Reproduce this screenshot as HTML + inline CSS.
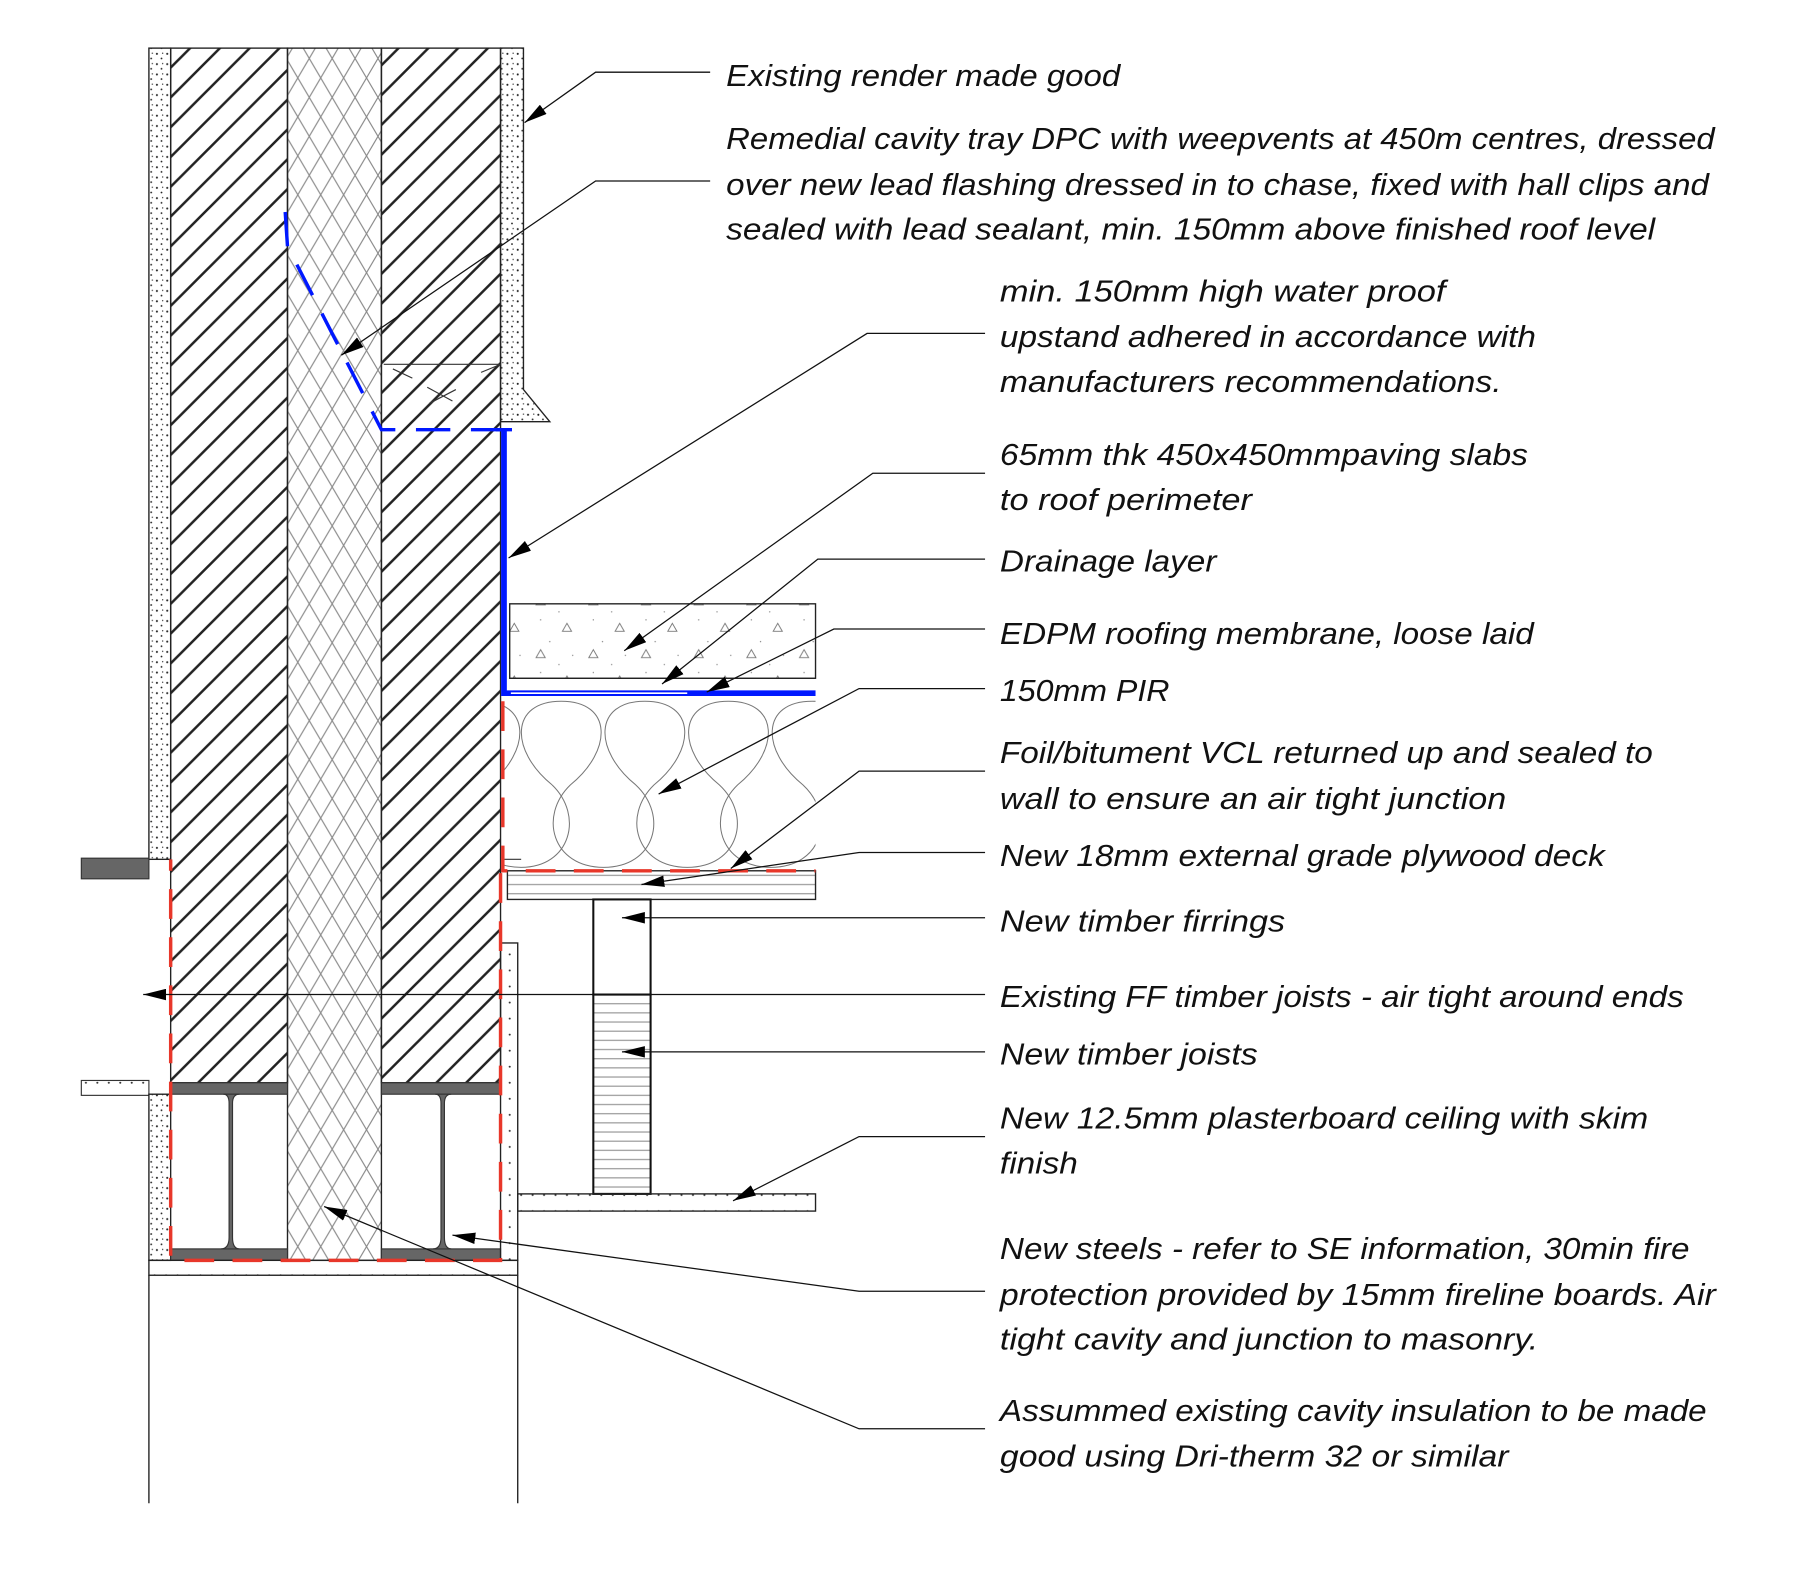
<!DOCTYPE html>
<html><head><meta charset="utf-8"><style>
html,body{margin:0;padding:0;background:#fff;}
svg{display:block;}
text{font-family:"Liberation Sans",sans-serif;font-style:italic;font-size:27px;fill:#111;}
</style></head><body>
<svg width="1796" height="1572" viewBox="0 0 1568 1372" preserveAspectRatio="none" xmlns="http://www.w3.org/2000/svg">
<defs>
<pattern id="hatch" width="26" height="26" patternUnits="userSpaceOnUse">
<path d="M-2,28 L28,-2 M-15,15 L15,-15 M11,41 L41,11" stroke="#222" stroke-width="2.2"/>
</pattern>
<pattern id="cross" width="20" height="34" patternUnits="userSpaceOnUse">
<path d="M0,0 L20,34 M20,0 L0,34 M-10,17 L0,34 M20,0 L30,17 M0,0 L-10,17 M30,17 L20,34" stroke="#888" stroke-width="1" fill="none"/>
</pattern>
<pattern id="dots" width="9" height="9" patternUnits="userSpaceOnUse">
<circle cx="2" cy="2" r="0.9" fill="#222"/><circle cx="6" cy="6" r="0.8" fill="#222"/><circle cx="7" cy="1.5" r="0.6" fill="#444"/>
</pattern>
<pattern id="dots2" width="10" height="14" patternUnits="userSpaceOnUse">
<circle cx="5" cy="7" r="0.9" fill="#333"/>
</pattern>
<pattern id="conc" width="46" height="46" patternUnits="userSpaceOnUse">
<path d="M8,22 l4,-7 l4,7z M31,45 l4,-7 l4,7z" stroke="#777" fill="none" stroke-width="0.8"/>
<circle cx="20" cy="8" r="0.6" fill="#888"/><circle cx="40" cy="20" r="0.6" fill="#888"/><circle cx="12" cy="35" r="0.6" fill="#888"/><circle cx="28" cy="28" r="0.6" fill="#888"/>
</pattern>
<pattern id="wood" width="20" height="8" patternUnits="userSpaceOnUse">
<path d="M0,4 L20,4" stroke="#999" stroke-width="1"/>
</pattern>
<marker id="ah" viewBox="0 0 20 10" refX="20" refY="5" markerWidth="20" markerHeight="10" markerUnits="userSpaceOnUse" orient="auto">
<path d="M0,0 L20,5 L0,10z" fill="#000"/>
</marker>
<clipPath id="pirclip"><rect x="440" y="610" width="272" height="150"/></clipPath>
</defs>

<rect x="130" y="42" width="19" height="708" fill="url(#dots)" stroke="#222" stroke-width="1.2"/>
<rect x="149" y="42" width="102" height="903" fill="url(#hatch)" stroke="#222" stroke-width="1.2"/>
<rect x="251" y="42" width="82" height="1058" fill="url(#cross)" stroke="#222" stroke-width="1.2"/>
<rect x="333" y="42" width="104" height="903" fill="url(#hatch)" stroke="#222" stroke-width="1.2"/>
<path d="M437,42 L457,42 L457,340 L480,368 L437,368 Z" fill="url(#dots)" stroke="#222" stroke-width="1.2"/>
<path d="M335,318 L437,318 M343,322 L360,330 M373,338 L395,350 M375,352 L398,340 M420,325 L437,318" stroke="#333" stroke-width="1"/>

<rect x="71" y="749" width="59" height="18" fill="#666" stroke="#333"/>
<rect x="71" y="943" width="59" height="13" fill="url(#dots2)" stroke="#333"/>
<rect x="130" y="955" width="19" height="145" fill="url(#dots)" stroke="#222" stroke-width="1.2"/>

<g fill="#666" stroke="#333">
<rect x="149" y="945" width="102" height="10"/>
<rect x="149" y="1090" width="102" height="10"/>
<path d="M195,955 Q200,955 200,963 L200,1080 Q200,1090 193,1090 L209,1090 Q203,1090 203,1080 L203,963 Q203,955 209,955Z"/>
<rect x="333" y="945" width="104" height="10"/>
<rect x="333" y="1090" width="104" height="10"/>
<path d="M380,955 Q385,955 385,963 L385,1080 Q385,1090 378,1090 L394,1090 Q388,1090 388,1080 L388,963 Q388,955 394,955Z"/>
</g>
<rect x="130" y="1100" width="322" height="13" fill="url(#dots2)" stroke="#222" stroke-width="1.2"/>
<rect x="437" y="823" width="15" height="277" fill="url(#dots2)" stroke="#222" stroke-width="1.2"/>
<path d="M130,1113 L130,1312 M452,1113 L452,1312" stroke="#222" stroke-width="1.2"/>

<rect x="445" y="527" width="267" height="65" fill="url(#conc)" stroke="#222" stroke-width="1.2"/>
<path d="M445,592 L712,592" stroke="#222"/>
<g clip-path="url(#pirclip)" stroke="#777" fill="none" stroke-width="0.9">
<path d="M482,685 C445,655 445,612 490,612 C535,612 535,655 498,685 C470,712 482,757 527,757 C572,757 584,712 555,685 C518,655 518,612 563,612 C608,612 608,655 571,685 C543,712 555,757 600,757 C645,757 657,712 628,685 C591,655 591,612 636,612 C681,612 681,655 644,685 C616,712 628,757 673,757 C718,757 730,712 701,685 C664,655 664,612 709,612 C754,612 754,655 717,685"/>
<path d="M482,685 C510,712 498,757 455,757 C410,757 398,712 427,685 C464,655 464,612 419,612"/>
</g>
<path d="M440,750 L455,750" stroke="#333"/>
<rect x="443" y="760" width="269" height="25" fill="url(#wood)" stroke="#222" stroke-width="1.2"/>
<rect x="518" y="785" width="50" height="83" fill="#fff" stroke="#111" stroke-width="1.8"/>
<rect x="518" y="868" width="50" height="174" fill="url(#wood)" stroke="#111" stroke-width="1.8"/>
<rect x="452" y="1042" width="260" height="15" fill="url(#dots2)" stroke="#222" stroke-width="1.2"/>

<path d="M249,185 L251,215 L333,375 L440,375" stroke="#0018ff" stroke-width="3" fill="none" stroke-dasharray="30,18"/>
<path d="M433,375 L447,375" stroke="#0018ff" stroke-width="3"/>
<path d="M440,375 L440,605 L712,605" stroke="#0018ff" stroke-width="5" fill="none"/>
<path d="M446,605 L600,605" stroke="#fff" stroke-width="1.5"/>

<g stroke="#e8372a" stroke-width="3" fill="none" stroke-dasharray="26,16">
<path d="M439,612 L439,760 L712,760"/>
<path d="M437,762 L437,1100 L149,1100 L149,750"/>
</g>

<g stroke="#111" stroke-width="1.1" fill="none" marker-end="url(#ah)">
<path d="M620,63 L520,63 L458,107"/>
<path d="M620,158 L520,158 L298,310"/>
<path d="M860,291 L757,291 L444,487"/>
<path d="M860,413 L762,413 L545,568"/>
<path d="M860,488 L714,488 L578,597"/>
<path d="M860,549 L728,549 L617,604"/>
<path d="M860,601 L750,601 L575,693"/>
<path d="M860,673 L750,673 L638,758"/>
<path d="M860,744 L750,744 L560,772"/>
<path d="M860,801 L543,801"/>
<path d="M860,868 L125,868"/>
<path d="M860,918 L543,918"/>
<path d="M860,992 L750,992 L640,1048"/>
<path d="M860,1127 L750,1127 L395,1078"/>
<path d="M860,1247 L750,1247 L283,1053"/>
</g>

<text x="634" y="75" textLength="344" lengthAdjust="spacingAndGlyphs">Existing render made good</text>
<text x="634" y="130" textLength="863" lengthAdjust="spacingAndGlyphs">Remedial cavity tray DPC with weepvents at 450m centres, dressed</text>
<text x="634" y="170" textLength="858" lengthAdjust="spacingAndGlyphs">over new lead flashing dressed in to chase, fixed with hall clips and</text>
<text x="634" y="209" textLength="811" lengthAdjust="spacingAndGlyphs">sealed with lead sealant, min. 150mm above finished roof level</text>
<text x="873" y="263" textLength="389" lengthAdjust="spacingAndGlyphs">min. 150mm high water proof</text>
<text x="873" y="303" textLength="468" lengthAdjust="spacingAndGlyphs">upstand adhered in accordance with</text>
<text x="873" y="342" textLength="438" lengthAdjust="spacingAndGlyphs">manufacturers recommendations.</text>
<text x="873" y="406" textLength="461" lengthAdjust="spacingAndGlyphs">65mm thk 450x450mmpaving slabs</text>
<text x="873" y="445" textLength="220" lengthAdjust="spacingAndGlyphs">to roof perimeter</text>
<text x="873" y="499" textLength="189" lengthAdjust="spacingAndGlyphs">Drainage layer</text>
<text x="873" y="562" textLength="466" lengthAdjust="spacingAndGlyphs">EDPM roofing membrane, loose laid</text>
<text x="873" y="612" textLength="148" lengthAdjust="spacingAndGlyphs">150mm PIR</text>
<text x="873" y="666" textLength="570" lengthAdjust="spacingAndGlyphs">Foil/bitument VCL returned up and sealed to</text>
<text x="873" y="706" textLength="442" lengthAdjust="spacingAndGlyphs">wall to ensure an air tight junction</text>
<text x="873" y="756" textLength="528" lengthAdjust="spacingAndGlyphs">New 18mm external grade plywood deck</text>
<text x="873" y="813" textLength="249" lengthAdjust="spacingAndGlyphs">New timber firrings</text>
<text x="873" y="879" textLength="597" lengthAdjust="spacingAndGlyphs">Existing FF timber joists - air tight around ends</text>
<text x="873" y="929" textLength="225" lengthAdjust="spacingAndGlyphs">New timber joists</text>
<text x="873" y="985" textLength="566" lengthAdjust="spacingAndGlyphs">New 12.5mm plasterboard ceiling with skim</text>
<text x="873" y="1024" textLength="68" lengthAdjust="spacingAndGlyphs">finish</text>
<text x="873" y="1099" textLength="602" lengthAdjust="spacingAndGlyphs">New steels - refer to SE information, 30min fire</text>
<text x="873" y="1139" textLength="625" lengthAdjust="spacingAndGlyphs">protection provided by 15mm fireline boards. Air</text>
<text x="873" y="1178" textLength="470" lengthAdjust="spacingAndGlyphs">tight cavity and junction to masonry.</text>
<text x="873" y="1240" textLength="617" lengthAdjust="spacingAndGlyphs">Assummed existing cavity insulation to be made</text>
<text x="873" y="1280" textLength="444" lengthAdjust="spacingAndGlyphs">good using Dri-therm 32 or similar</text>
</svg>
</body></html>
